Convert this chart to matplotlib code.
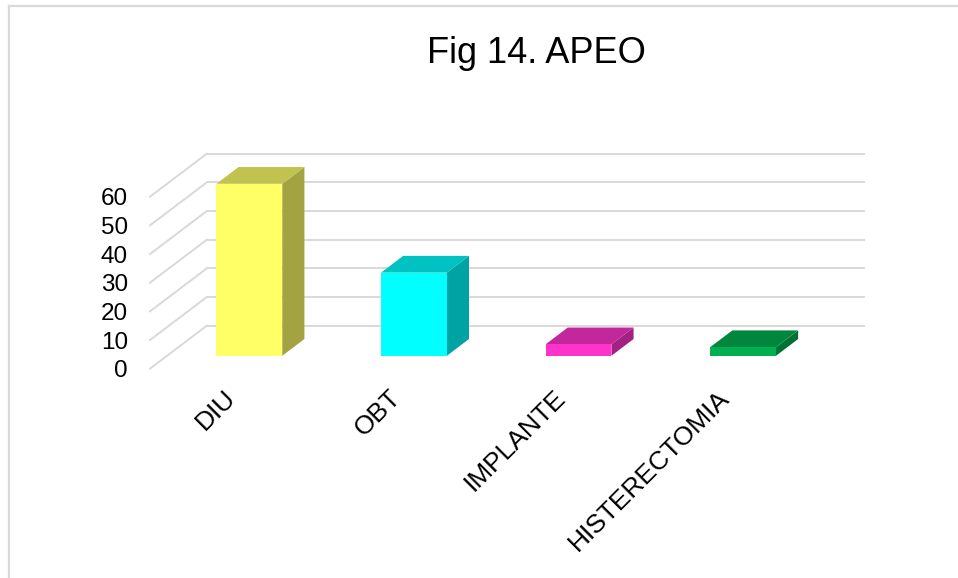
import numpy as np
import matplotlib
matplotlib.use("Agg")
import matplotlib.pyplot as plt
from matplotlib.patches import Polygon, Rectangle
from matplotlib.lines import Line2D

plt.rcParams['font.family'] = ['Liberation Sans', 'DejaVu Sans']

# data
categories = ["DIU", "OBT", "IMPLANTE", "HISTERECTOMIA"]
values = [60, 29, 4, 3]
y_ticks = [0, 10, 20, 30, 40, 50, 60]
title = "Fig 14. APEO"

# styles
bar_colors = ["#FFFF66", "#00FFFF", "#FF33CC", "#00B050"]
grid_color = "#D9D9D9"

# oblique depth of the "3d" box, in data units (category, value)
depth_x = 0.345
depth_y = 15.0
bar_front = 0.30   # fraction of depth where bar front face sits
bar_depth = 0.39   # bar thickness as fraction of depth
bar_width = 0.40


def shade(color, f):
    r, g, b = matplotlib.colors.to_rgb(color)
    return (r * f, g * f, b * f)


W, H = 958, 578
fig = plt.figure(figsize=(W / 100, H / 100), dpi=100)

# axes placed from pixel layout
left_px, right_px = 141.8, 874.2
top_px, bottom_px = 145.1, 374.4
ax = fig.add_axes([left_px / W, 1 - bottom_px / H,
                   (right_px - left_px) / W, (bottom_px - top_px) / H])
ax.set_xlim(-0.05, 4.4)
ax.set_ylim(-2, 78)
for s in ax.spines.values():
    s.set_visible(False)

# back wall grid lines and side wall diagonals
n = len(categories)
for v in y_ticks:
    ax.plot([depth_x, n + depth_x], [v + depth_y, v + depth_y],
            color=grid_color, lw=1.4, zorder=1, solid_capstyle='butt')
    ax.plot([0, depth_x], [v, v + depth_y], color=grid_color, lw=1.4, zorder=1)

# bars
for i, (v, c) in enumerate(zip(values, bar_colors)):
    x0 = i + 0.5 - bar_width / 2 + bar_front * depth_x
    x1 = x0 + bar_width
    y0 = bar_front * depth_y
    y1 = y0 + v
    dx = bar_depth * depth_x
    dy = bar_depth * depth_y
    side = Polygon([(x1, y0), (x1 + dx, y0 + dy), (x1 + dx, y1 + dy), (x1, y1)],
                   closed=True, facecolor=shade(c, 0.64), edgecolor='none', zorder=3)
    top = Polygon([(x0, y1), (x1, y1), (x1 + dx, y1 + dy), (x0 + dx, y1 + dy)],
                  closed=True, facecolor=shade(c, 0.76), edgecolor='none', zorder=3)
    front = Rectangle((x0, y0), bar_width, v, facecolor=c, edgecolor='none', zorder=4)
    ax.add_patch(side)
    ax.add_patch(top)
    ax.add_patch(front)

ax.set_yticks(y_ticks)
ax.set_yticklabels([str(t) for t in y_ticks], fontsize=17.5)
ax.set_xticks(np.arange(n) + 0.5)
ax.set_xticklabels(categories, fontsize=19, rotation=45, ha='right',
                   va='center', rotation_mode='anchor')
ax.tick_params(axis='y', length=0, pad=10)
ax.tick_params(axis='x', length=0, pad=14)

fig.text(536 / W, 1 - 63 / H, title, fontsize=26, ha='center', va='baseline')

# chart frame (cropped at the right and bottom)
fig.add_artist(Line2D([8.5 / W, 1.0], [1 - 6 / H, 1 - 6 / H],
                      transform=fig.transFigure, color=grid_color, lw=1.6))
fig.add_artist(Line2D([8.5 / W, 8.5 / W], [1 - 6 / H, 0],
                      transform=fig.transFigure, color=grid_color, lw=1.6))

fig.savefig("out.png", dpi=100)
